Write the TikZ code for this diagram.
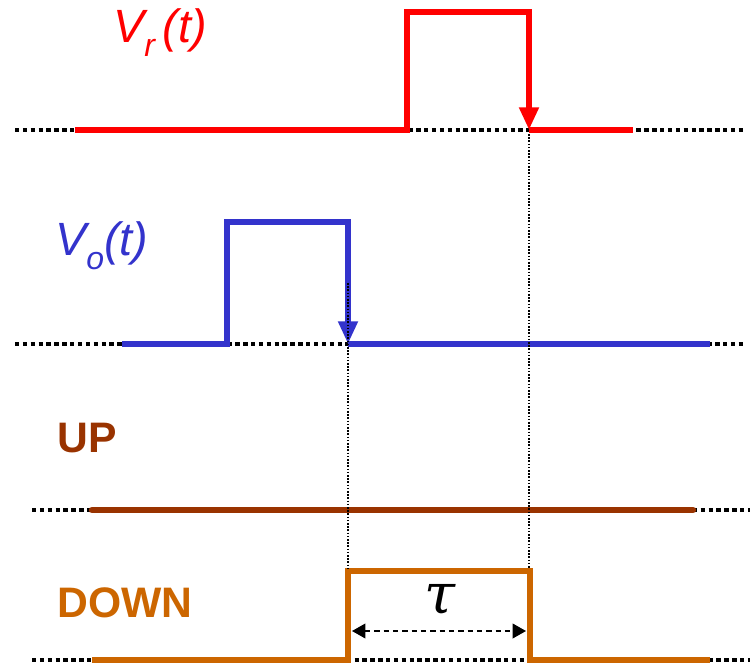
\documentclass[tikz,border=0pt]{standalone}
\usepackage{fontspec}
\setmainfont{Liberation Sans}
\newfontfamily\tauface{DejaVu Serif}
\usepackage{xcolor}
\definecolor{cRef}{HTML}{FF0000}
\definecolor{cOut}{HTML}{3333CC}
\definecolor{cUp}{HTML}{993300}
\definecolor{cDown}{HTML}{CC6600}
\usetikzlibrary{arrows.meta}
\tikzset{
  base-dots/.style={draw=black,line width=3.3pt,dash pattern=on 3.3pt off 2.6pt},
  guide-line/.style={draw=black,line width=1.2pt,dash pattern=on 1.2pt off 1.2pt},
  wave/.style={line width=4.8pt},
  wave-fall/.style={wave,-{Triangle[length=17pt,width=14pt]}},
  sig-label/.style={font=\fontsize{35}{40}\selectfont\itshape,inner sep=0pt,anchor=base west},
  name-label/.style={font=\fontsize{32}{36}\selectfont\bfseries,inner sep=0pt,anchor=base west},
  span-arrow/.style={{Triangle[length=10pt,width=11pt]}-{Triangle[length=10pt,width=11pt]},
    line width=1.2pt,dash pattern=on 4pt off 3pt},
}
\newcommand{\sigsub}[1]{\raisebox{-0.28em}{\fontsize{24}{26}\selectfont #1}}

\begin{document}
\begin{tikzpicture}[x=0.75pt,y=-0.75pt]
  \useasboundingbox (0,0) rectangle (753,666);
  % zero lines
  \foreach \y/\xa/\xb in {130/15/745,344/15/745,510/32/750,660/32/750}
    \draw[base-dots] (\xa,\y) -- (\xb,\y);

  % V_r(t)
  \coordinate (r0) at (75,130);
  \coordinate (r1) at (407,130);
  \coordinate (r2) at (407,12);
  \coordinate (r3) at (529,12);
  \coordinate (r4) at (529,130);
  \coordinate (r5) at (633,130);
  \draw[wave-fall,cRef] (r0) -- (r1) -- (r2) -- (r3) -- (r4);
  \draw[wave,cRef] (r4) -- (r5);
  \node[sig-label,cRef] (lblr) at (113,43) {V\sigsub{r}\,(t)};

  % V_o(t)
  \coordinate (o0) at (122,344);
  \coordinate (o1) at (227,344);
  \coordinate (o2) at (227,222);
  \coordinate (o3) at (348,222);
  \coordinate (o4) at (348,344);
  \coordinate (o5) at (710,344);
  \draw[wave-fall,cOut] (o0) -- (o1) -- (o2) -- (o3) -- (o4);
  \draw[wave,cOut] (o4) -- (o5);
  \node[sig-label,cOut] (lblo) at (55,256) {V\sigsub{o}(t)};

  % UP
  \coordinate (u0) at (92,510);
  \coordinate (u1) at (693,510);
  \draw[wave,cUp,line cap=round] (u0) -- (u1);
  \node[name-label,cUp] (lblu) at (57,452) {UP};

  % DOWN
  \coordinate (d0) at (92,660);
  \coordinate (d1) at (348,660);
  \coordinate (d2) at (348,571);
  \coordinate (d3) at (530,571);
  \coordinate (d4) at (530,660);
  \coordinate (d5) at (710,660);
  \draw[wave,cDown] (d0) -- (d1) -- (d2) -- (d3) -- (d4) -- (d5);
  \node[name-label,cDown] (lbld) at (57,617) {DOWN};

  % guides and tau
  \coordinate (g0) at (348,283);
  \coordinate (g1) at (348,569);
  \coordinate (g2) at (529,134);
  \coordinate (g3) at (529,569);
  \draw[guide-line] (g0) -- (g1);
  \draw[guide-line] (g2) -- (g3);
  \coordinate (s0) at (352,631);
  \coordinate (s1) at (526,631);
  \draw[span-arrow] (s0) -- (s1);
  \node[font=\fontsize{42}{46}\selectfont\tauface\itshape,inner sep=0pt] (tau) at (440,600) {τ};
\end{tikzpicture}
\end{document}
